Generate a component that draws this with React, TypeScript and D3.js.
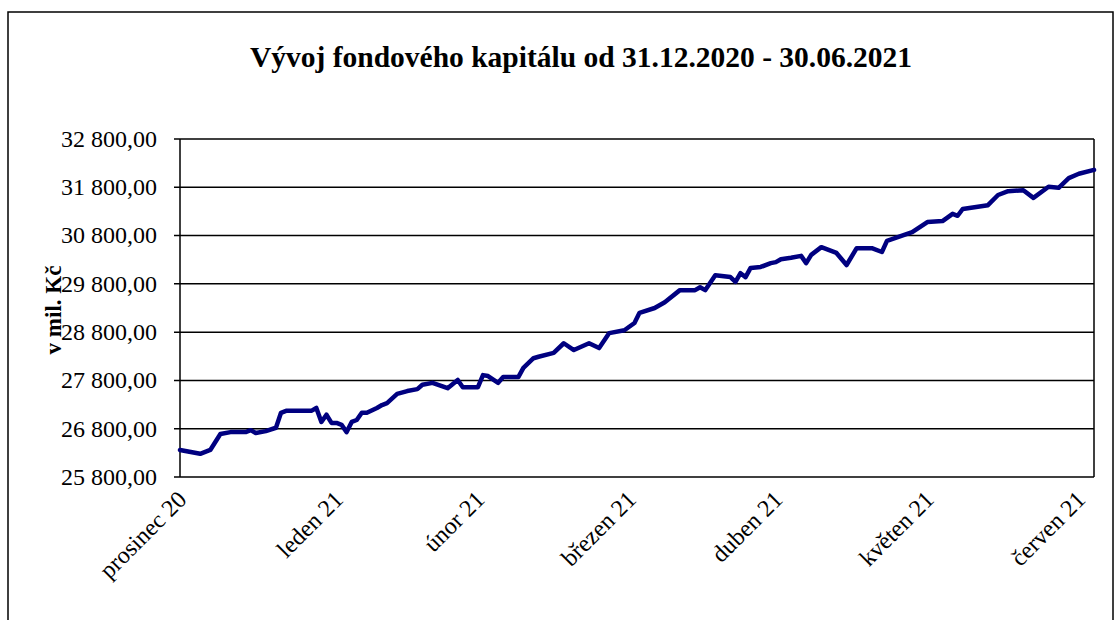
import React from "react";
import * as d3 from "d3";

// fund capital, mil. Kč
const dates = [
  "2020-12-31", "2021-01-04", "2021-01-06", "2021-01-08", "2021-01-10", "2021-01-13",
  "2021-01-14", "2021-01-15", "2021-01-17", "2021-01-19", "2021-01-20", "2021-01-21",
  "2021-01-26", "2021-01-27", "2021-01-28", "2021-01-29", "2021-01-30", "2021-01-31",
  "2021-02-01", "2021-02-02", "2021-02-03", "2021-02-04", "2021-02-05", "2021-02-06",
  "2021-02-08", "2021-02-09", "2021-02-10", "2021-02-12", "2021-02-14", "2021-02-16",
  "2021-02-17", "2021-02-19", "2021-02-22", "2021-02-24", "2021-02-25", "2021-02-28",
  "2021-03-01", "2021-03-02", "2021-03-04", "2021-03-05", "2021-03-08", "2021-03-09",
  "2021-03-11", "2021-03-12", "2021-03-15", "2021-03-17", "2021-03-19", "2021-03-22",
  "2021-03-24", "2021-03-26", "2021-03-29", "2021-03-31", "2021-04-01", "2021-04-04",
  "2021-04-06", "2021-04-09", "2021-04-12", "2021-04-13", "2021-04-14", "2021-04-16",
  "2021-04-19", "2021-04-20", "2021-04-21", "2021-04-22", "2021-04-23", "2021-04-25",
  "2021-04-27", "2021-04-28", "2021-04-29", "2021-05-01", "2021-05-03", "2021-05-04",
  "2021-05-05", "2021-05-07", "2021-05-10", "2021-05-12", "2021-05-14", "2021-05-17",
  "2021-05-19", "2021-05-20", "2021-05-25", "2021-05-28", "2021-05-31", "2021-06-02",
  "2021-06-03", "2021-06-04", "2021-06-09", "2021-06-11", "2021-06-13", "2021-06-16",
  "2021-06-18", "2021-06-21", "2021-06-23", "2021-06-25", "2021-06-27", "2021-06-30",
];

const values = [
  26360, 26280, 26360, 26690, 26730, 26730,
  26770, 26710, 26750, 26820, 27130, 27170,
  27170, 27230, 26940, 27090, 26920, 26920,
  26880, 26730, 26940, 26980, 27130, 27130,
  27230, 27290, 27330, 27520, 27580, 27620,
  27710, 27750, 27640, 27810, 27660, 27660,
  27910, 27890, 27750, 27870, 27870, 28060,
  28260, 28290, 28370, 28570, 28430, 28570,
  28470, 28780, 28840, 28990, 29200, 29300,
  29420, 29670, 29670, 29730, 29670, 29980,
  29940, 29840, 30020, 29940, 30130, 30150,
  30230, 30250, 30310, 30340, 30380, 30230,
  30400, 30560, 30440, 30190, 30540, 30540,
  30460, 30690, 30870, 31080, 31100, 31250,
  31210, 31350, 31430, 31640, 31720, 31740,
  31580, 31810, 31790, 31990, 32080, 32160,
];

const yTicks = [25800, 26800, 27800, 28800, 29800, 30800, 31800, 32800];

const monthLabels = ["prosinec 20", "leden 21", "únor 21", "březen 21", "duben 21", "květen 21", "červen 21"];
const monthLabelDates = ["2020-12-31", "2021-01-31", "2021-02-28", "2021-03-30", "2021-04-28", "2021-05-28", "2021-06-27"];

const serif = '"Liberation Serif", "Times New Roman", serif';

export default function App() {
  const width = 1115;
  const height = 620;
  const left = 180;
  const right = 1094;
  const top = 139;
  const bottom = 477;

  const parse = d3.utcParse("%Y-%m-%d");
  const data = dates.map((d, i) => ({ date: parse(d) as Date, value: values[i] }));

  const x = d3.scaleUtc()
    .domain(d3.extent(data, d => d.date) as [Date, Date])
    .range([left, right]);
  const y = d3.scaleLinear().domain([25800, 32800]).range([bottom, top]);

  const line = d3.line<{ date: Date; value: number }>()
    .x(d => x(d.date))
    .y(d => y(d.value));

  const fmt = d3.formatLocale({
    decimal: ",",
    thousands: "\u00a0",
    grouping: [3],
    currency: ["", ""],
  }).format(",.2f");

  return (
    <svg
      width={width}
      height={height}
      style={{ position: "absolute", left: 0, top: 0, background: "#fff" }}
    >
      {/* chart frame */}
      <rect x={8} y={12} width={1105} height={640} fill="none" stroke="#000" strokeWidth={1.5} />

      <text
        x={581}
        y={67}
        textAnchor="middle"
        fontFamily={serif}
        fontWeight="bold"
        fontSize={29.5}
      >
        Vývoj fondového kapitálu od 31.12.2020 - 30.06.2021
      </text>

      {/* gridlines */}
      {yTicks.map(t => (
        <line key={t} x1={left - 6} x2={right} y1={y(t)} y2={y(t)} stroke="#000" strokeWidth={1.5} />
      ))}
      <line x1={left} x2={left} y1={top} y2={bottom} stroke="#000" strokeWidth={1.5} />
      <line x1={right} x2={right} y1={top} y2={bottom} stroke="#000" strokeWidth={1.5} />

      {yTicks.map(t => (
        <text
          key={"l" + t}
          x={157}
          y={y(t)}
          dy="0.33em"
          textAnchor="end"
          fontFamily={serif}
          fontSize={24}
        >
          {fmt(t)}
        </text>
      ))}

      <text
        transform={`translate(61,310) rotate(-90)`}
        textAnchor="middle"
        fontFamily={serif}
        fontWeight="bold"
        fontSize={23}
      >
        v mil. Kč
      </text>

      {monthLabels.map((m, i) => {
        const px = x(parse(monthLabelDates[i]) as Date) + 8;
        return (
          <text
            key={m}
            transform={`translate(${px},501) rotate(-45)`}
            textAnchor="end"
            fontFamily={serif}
            fontSize={24}
          >
            {m}
          </text>
        );
      })}

      <path
        d={line(data) ?? ""}
        fill="none"
        stroke="#000080"
        strokeWidth={4.5}
        strokeLinejoin="round"
        strokeLinecap="round"
      />
    </svg>
  );
}
